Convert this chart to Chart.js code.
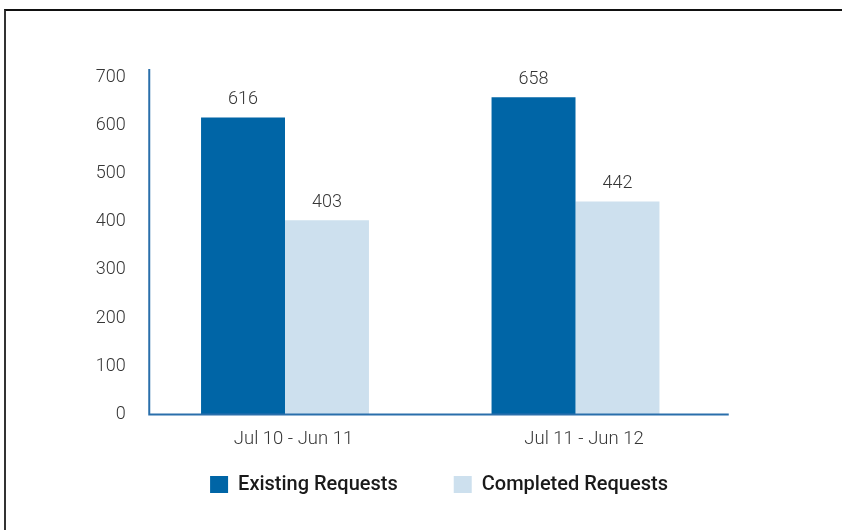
<!DOCTYPE html>
<html>
<head>
<meta charset="utf-8">
<script src="https://cdn.jsdelivr.net/npm/chart.js@4/dist/chart.umd.min.js"></script>
<style>
    html, body { margin: 0; padding: 0; background: #fff; }
    #wrap { position: relative; width: 842px; height: 530px; }
    #frame {
        position: absolute; left: 4px; top: 9px; right: 0; bottom: 0;
        border-top: 2px solid #111; border-left: 2px solid #333;
        pointer-events: none;
    }
</style>
</head>
<body>
<div id="wrap">
    <canvas id="barChart" width="842" height="530"></canvas>
    <div id="frame"></div>
</div>
<script>
    const CATEGORIES = ['Jul 10 - Jun 11', 'Jul 11 - Jun 12'];
    const EXISTING = [616, 658];
    const COMPLETED = [403, 442];
    const SERIES_NAMES = ['Existing Requests', 'Completed Requests'];
    const Y_TICKS = [0, 100, 200, 300, 400, 500, 600, 700];

    const COLORS = {
        existing: '#0065a6',
        completed: '#cde0ee',
        axis: '#2a6fab',
        tick: '#363636',
        legend: '#1a1a1a'
    };

    const FONT = 'Roboto, "Noto Sans", sans-serif';
    const LEGEND_FONT = 20;
    const LEGEND_BOX_H = 17;
    const LEGEND_PAD = 56;
    const LEGEND_BOX_TOP = 476;

    // value labels above every bar
    const valueLabels = {
        id: 'valueLabels',
        afterDatasetsDraw(chart) {
            const ctx = chart.ctx;
            ctx.save();
            ctx.font = '300 18px ' + FONT;
            ctx.fillStyle = COLORS.tick;
            ctx.textAlign = 'center';
            ctx.textBaseline = 'middle';
            chart.data.datasets.forEach(function (ds, i) {
                chart.getDatasetMeta(i).data.forEach(function (bar, j) {
                    ctx.fillText(String(ds.data[j]), bar.x, bar.y - 18);
                });
            });
            ctx.restore();
        }
    };

    // axis lines, drawn a bit wider than the bar area like the original
    const axisLines = {
        id: 'axisLines',
        afterDraw(chart) {
            const a = chart.chartArea;
            const ctx = chart.ctx;
            const x0 = a.left + 9.5;
            ctx.save();
            ctx.strokeStyle = COLORS.axis;
            ctx.lineWidth = 2;
            ctx.beginPath();
            ctx.moveTo(x0, a.top - 8);
            ctx.lineTo(x0, a.bottom + 1);
            ctx.moveTo(x0 - 1, a.bottom);
            ctx.lineTo(a.right + 8, a.bottom);
            ctx.stroke();
            ctx.restore();
        }
    };

    // centre the legend under the axis line and put it at the original height
    const legendShift = {
        id: 'legendShift',
        afterLayout(chart) {
            const a = chart.chartArea;
            const lg = chart.legend;
            const target = (a.left + 9.5 + a.right + 8) / 2;
            const shift = target - (lg.left + lg.right) / 2;
            lg.left += shift;
            lg.right += shift;
            const h = lg.bottom - lg.top;
            lg.top = LEGEND_BOX_TOP - LEGEND_PAD - Math.max((LEGEND_FONT - LEGEND_BOX_H) / 2, 0);
            lg.bottom = lg.top + h;
        }
    };

    function createChart() {
        const ctx = document.getElementById('barChart').getContext('2d');

        const barData = {
            labels: CATEGORIES,
            datasets: [
                {
                    label: SERIES_NAMES[0],
                    data: EXISTING,
                    backgroundColor: COLORS.existing,
                    barPercentage: 1,
                    categoryPercentage: 0.578
                },
                {
                    label: SERIES_NAMES[1],
                    data: COMPLETED,
                    backgroundColor: COLORS.completed,
                    barPercentage: 1,
                    categoryPercentage: 0.578
                }
            ]
        };

        const barOptions = {
            responsive: false,
            animation: false,
            layout: {
                padding: { left: 0, right: 121.25, top: 77, bottom: -6.5 }
            },
            plugins: {
                tooltip: { enabled: false },
                legend: {
                    position: 'bottom',
                    labels: {
                        boxWidth: 18,
                        boxHeight: LEGEND_BOX_H,
                        padding: LEGEND_PAD,
                        color: COLORS.legend,
                        font: { family: FONT, size: LEGEND_FONT, weight: '500' }
                    }
                }
            },
            scales: {
                x: {
                    grid: { display: false, drawTicks: false },
                    border: { display: false },
                    ticks: {
                        color: COLORS.tick,
                        padding: 14,
                        labelOffset: 8.5,
                        font: { family: FONT, size: 18.5, weight: '300' }
                    },
                    afterFit: function (scale) { scale.height = 36; }
                },
                y: {
                    min: 0,
                    max: 700,
                    grid: { display: false, drawTicks: false },
                    border: { display: false },
                    afterBuildTicks: function (scale) {
                        scale.ticks = Y_TICKS.map(function (v) { return { value: v }; });
                    },
                    ticks: {
                        color: COLORS.tick,
                        padding: 14,
                        font: { family: FONT, size: 18, weight: '300' }
                    },
                    afterFit: function (scale) { scale.width = 139.75; }
                }
            }
        };

        new Chart(ctx, {
            type: 'bar',
            data: barData,
            options: barOptions,
            plugins: [valueLabels, axisLines, legendShift]
        });
    }

    createChart();
</script>
</body>
</html>
